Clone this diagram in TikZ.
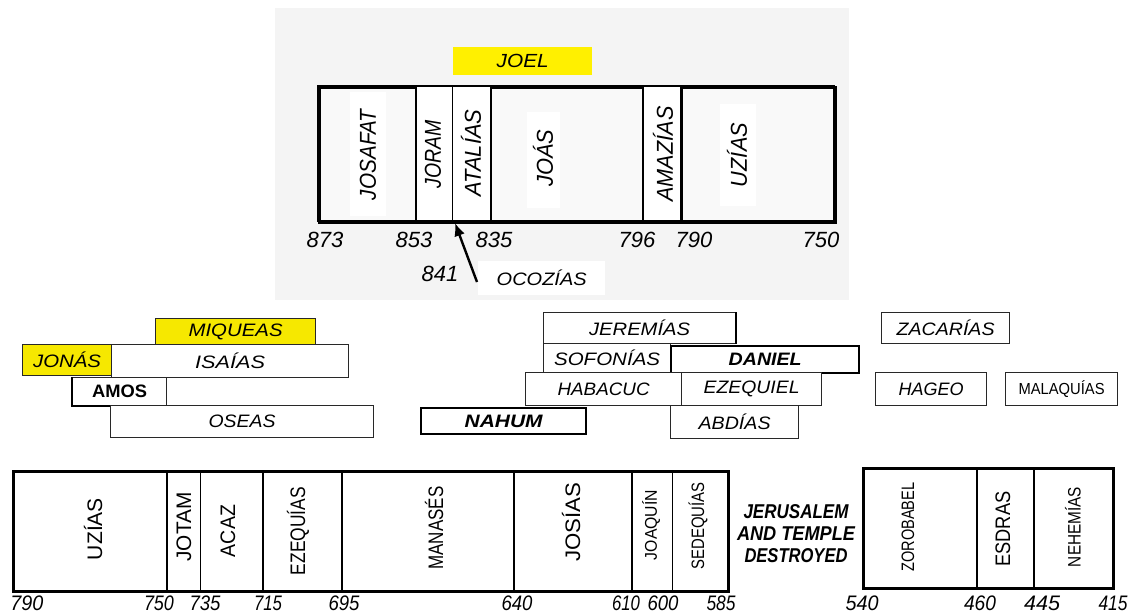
\documentclass[tikz,border=0pt]{standalone}
\usepackage{fontspec}
\setmainfont{Liberation Sans}
\usepackage{graphicx}
\usetikzlibrary{arrows.meta}
\definecolor{panel}{RGB}{244,244,244}
\definecolor{cellgrey}{RGB}{249,249,249}
\definecolor{hl}{RGB}{255,240,0}
\definecolor{hlb}{RGB}{246,232,0}
\definecolor{edge}{RGB}{40,40,40}
\newcommand{\fitw}[2]{\resizebox{#1pt}{\height}{#2}}
% \pbx{style}{name}{x}{y}{w}{h}{textwidth}{text}
\newcommand{\pbx}[8]{\node[#1, minimum width=#5pt, minimum height=#6pt] (#2) at (#3,#4) {\fitw{#7}{#8}};}
\begin{document}
\begin{tikzpicture}[x=1pt,y=-1pt,
  pbox/.style={draw=edge, line width=1.2pt, fill=white, anchor=north west, inner sep=0pt,
    font=\itshape\fontsize{18}{18}\selectfont},
  hlbox/.style={pbox, fill=hlb},
  boldbox/.style={pbox, line width=2.4pt, draw=black, font=\bfseries\itshape\fontsize{18}{18}\selectfont},
  topname/.style={rotate=90, inner sep=0pt, font=\itshape\fontsize{23}{23}\selectfont},
  botname/.style={rotate=90, inner sep=0pt, font=\fontsize{21}{21}\selectfont},
  topnum/.style={inner sep=0pt, font=\itshape\fontsize{22}{22}\selectfont},
  botnum/.style={inner sep=0pt, font=\itshape\fontsize{21}{21}\selectfont},
  timebox/.style={draw=black, line width=2.6pt, fill=white, anchor=north west, inner sep=0pt},
  thick div/.style={line width=2.2pt},
  thin div/.style={line width=0.9pt}
]
\useasboundingbox (0,0) rectangle (1135,615);
\fill[white] (0,0) rectangle (1135,615);

% ---------- top panel ----------
\fill[panel] (275,8) rectangle (849,300);
\node[fill=hl, minimum width=139pt, minimum height=28pt, anchor=north west, inner sep=0pt,
  font=\itshape\fontsize{19}{19}\selectfont] (joel) at (453,47) {\fitw{52}{JOEL}};

\node[timebox, fill=cellgrey, line width=2.6pt, minimum width=516pt, minimum height=135pt] (topbox) at (318,86) {};
\fill[white] (416,87) rectangle (491,220);
\fill[white] (643,87) rectangle (681,220);
\fill[white] (350,92) rectangle (386,216);
\fill[white] (527,112) rectangle (560,208);
\fill[white] (720,104) rectangle (756,206);
\draw[thick div] (416,86) -- (416,221);
\draw[thin div] (452,86) -- (452,221);
\draw[thick div] (491,86) -- (491,221);
\draw[thick div] (643,86) -- (643,221);
\draw[line width=3pt] (681,86) -- (681,221);
\draw[line width=2.6pt] (318,86) rectangle (834,221);

\node[topname] (josafat) at (368,155) {\fitw{90}{JOSAFAT}};
\node[topname] (joram) at (433,154) {\fitw{68}{JORAM}};
\node[topname] (atalias) at (471,153) {\fitw{87}{ATALÍAS}};
\node[topname] (joas) at (543,158) {\fitw{57}{JOÁS}};
\node[topname] (amazias) at (663,154) {\fitw{95}{AMAZÍAS}};
\node[topname] (uzias1) at (737,155) {\fitw{64}{UZÍAS}};

\node[topnum] (n873) at (325,240) {873};
\node[topnum] (n853) at (414,240) {853};
\node[topnum] (n835) at (494,240) {835};
\node[topnum] (n796) at (637,240) {796};
\node[topnum] (n790a) at (694,240) {790};
\node[topnum] (n750a) at (821,240) {750};
\node[topnum] (n841) at (440,274) {841};

\node[fill=white, minimum width=127pt, minimum height=34pt, anchor=north west, inner sep=0pt,
  font=\itshape\fontsize{18}{18}\selectfont] (ocozias) at (478,261) {\fitw{90}{OCOZÍAS}};
\coordinate (arrtail) at (477,282);
\coordinate (arrtip) at (455,223);
\draw[line width=2.4pt, -{Latex[length=13pt,width=11pt]}] (arrtail) -- (arrtip);

% ---------- prophets ----------
\pbx{hlbox}{miqueas}{155}{318}{160}{27}{94}{MIQUEAS}
\pbx{hlbox}{jonas}{22}{344}{89}{31}{68}{JONÁS}
\pbx{pbox}{isaias}{111}{344}{237}{33}{70}{ISAÍAS}
\pbx{pbox}{oseas}{110}{405}{263}{32}{67}{OSEAS}
\pbx{pbox, font=\bfseries\fontsize{18}{18}\selectfont}{amos}{72}{377}{94}{28}{55}{AMOS}
\draw[line width=2.4pt] (amos.north west) -- (amos.south west) -- (amos.south east -| oseas.west);

\pbx{pbox}{jeremias}{543}{312}{192}{31}{101}{JEREMÍAS}
\pbx{pbox}{sofonias}{543}{343}{127}{29}{106}{SOFONÍAS}
\pbx{boldbox}{daniel}{670}{345}{188}{27}{73}{DANIEL}
\draw[line width=2.4pt] (jeremias.north east) -- (jeremias.south east);
\pbx{pbox}{habacuc}{525}{372}{156}{33}{92}{HABACUC}
\pbx{pbox}{ezequiel}{681}{372}{140}{33}{96}{EZEQUIEL}
\pbx{boldbox}{nahum}{420}{407}{165}{26}{78}{NAHUM}
\pbx{pbox}{abdias}{670}{405}{128}{33}{72}{ABDÍAS}

\pbx{pbox}{zacarias}{881}{312}{128}{31}{98}{ZACARÍAS}
\pbx{pbox}{hageo}{875}{372}{111}{33}{65}{HAGEO}
\pbx{pbox, font=\fontsize{16}{16}\selectfont}{malaquias}{1005}{372}{112}{33}{86}{MALAQUÍAS}

% ---------- bottom timeline ----------
\node[timebox, minimum width=715pt, minimum height=120pt] (judah) at (12,470) {};
\draw[thick div] (167,470) -- (167,590);
\draw[thin div] (200,470) -- (200,590);
\draw[thick div] (263,470) -- (263,590);
\draw[thick div] (342,470) -- (342,590);
\draw[thick div] (514,470) -- (514,590);
\draw[thick div] (632,470) -- (632,590);
\draw[thin div] (672,470) -- (672,590);

\node[timebox, minimum width=250pt, minimum height=120pt] (return) at (862,467) {};
\draw[thick div] (977,467) -- (977,587);
\draw[thick div] (1034,467) -- (1034,587);

\node[botname] (uzias2) at (93,529) {\fitw{62}{UZÍAS}};
\node[botname] (jotam) at (184,527) {\fitw{69}{JOTAM}};
\node[botname] (acaz) at (228,531) {\fitw{52}{ACAZ}};
\node[botname] (ezequias) at (298,531) {\fitw{88}{EZEQUÍAS}};
\node[botname] (manases) at (434,528) {\fitw{83}{MANASÉS}};
\node[botname] (josias) at (571,522) {\fitw{79}{JOSÍAS}};
\node[botname, font=\fontsize{17}{17}\selectfont] (joaquin) at (651,525) {\fitw{70}{JOAQUÍN}};
\node[botname, font=\fontsize{18}{18}\selectfont] (sedequias) at (698,526) {\fitw{87}{SEDEQUÍAS}};
\node[botname, font=\fontsize{18}{18}\selectfont] (zorobabel) at (908,527) {\fitw{89}{ZOROBABEL}};
\node[botname] (esdras) at (1003,529) {\fitw{75}{ESDRAS}};
\node[botname, font=\fontsize{18}{18}\selectfont] (nehemias) at (1073,527) {\fitw{80}{NEHEMÍAS}};

\node[inner sep=0pt, font=\bfseries\itshape\fontsize{20}{20}\selectfont] (jer1) at (796,512) {\fitw{105}{JERUSALEM}};
\node[inner sep=0pt, font=\bfseries\itshape\fontsize{20}{20}\selectfont] (jer2) at (796,534) {\fitw{118}{AND TEMPLE}};
\node[inner sep=0pt, font=\bfseries\itshape\fontsize{20}{20}\selectfont] (jer3) at (796,556) {\fitw{103}{DESTROYED}};

\node[botnum] (b790) at (27,603) {\fitw{33}{790}};
\node[botnum] (b750) at (159,603) {\fitw{30}{750}};
\node[botnum] (b735) at (205,603) {\fitw{31}{735}};
\node[botnum] (b715) at (268,603) {\fitw{28}{715}};
\node[botnum] (b695) at (344,603) {\fitw{31}{695}};
\node[botnum] (b640) at (517,603) {\fitw{31}{640}};
\node[botnum] (b610) at (626,603) {\fitw{28}{610}};
\node[botnum] (b600) at (663,603) {\fitw{31}{600}};
\node[botnum] (b585) at (721,603) {\fitw{29}{585}};
\node[botnum] (b540) at (862,603) {\fitw{33}{540}};
\node[botnum] (b460) at (980,603) {\fitw{32}{460}};
\node[botnum] (b445) at (1042,603) {\fitw{36}{445}};
\node[botnum] (b415) at (1113,603) {\fitw{29}{415}};
\end{tikzpicture}
\end{document}
